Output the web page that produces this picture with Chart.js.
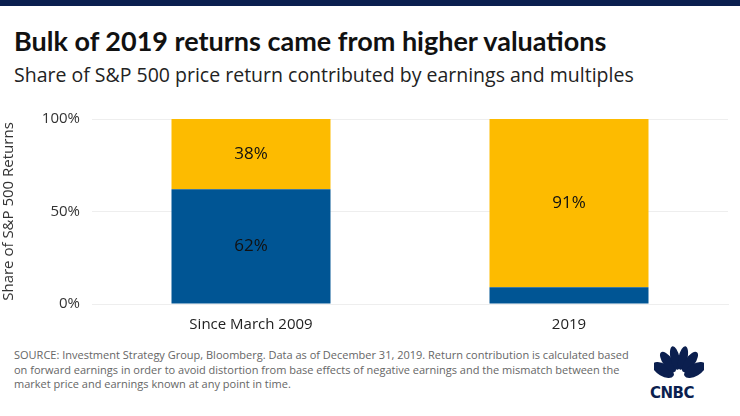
<!DOCTYPE html>
<html><head><meta charset="utf-8">
<script src="https://cdn.jsdelivr.net/npm/chart.js@4"></script>
<style>
body{margin:0;width:740px;height:416px;overflow:hidden;background:#fff;font-family:"Open Sans",Lato,sans-serif;position:relative}
#bar{position:absolute;left:0;top:0;width:740px;height:6px;background:#0b1f4f}
#t{position:absolute;left:14px;top:24px;font-size:27px;font-weight:bold;color:#111;font-family:Lato,"Open Sans",sans-serif}
#s{position:absolute;left:14px;top:61px;font-size:19.5px;color:#222}
#f{position:absolute;left:14px;top:348px;font-size:11px;line-height:14.5px;color:#666;width:620px}
#logo{position:absolute;left:650px;top:384px;font:900 15px "DejaVu Sans",sans-serif;color:#0b1f4f;letter-spacing:-0.5px}
canvas{position:absolute;left:0;top:0}
</style></head><body>
<div id="bar"></div>
<div id="t">Bulk of 2019 returns came from higher valuations</div>
<div id="s">Share of S&amp;P 500 price return contributed by earnings and multiples</div>
<div id="f">SOURCE: Investment Strategy Group, Bloomberg. Data as of December 31, 2019. Return contribution is calculated based on forward earnings in order to avoid distortion from base effects of negative earnings and the mismatch between the market price and earnings known at any point in time.</div>
<svg style="position:absolute;left:654px;top:346px" width="50" height="38" viewBox="0 0 50 38">
<g fill="#0b1f4f"><ellipse cx="9" cy="24" rx="6" ry="12" transform="rotate(-60 9 24)"/><ellipse cx="14" cy="16" rx="5" ry="12" transform="rotate(-35 14 16)"/><ellipse cx="21" cy="12" rx="4.5" ry="12" transform="rotate(-12 21 12)"/><ellipse cx="29" cy="12" rx="4.5" ry="12" transform="rotate(12 29 12)"/><ellipse cx="36" cy="16" rx="5" ry="12" transform="rotate(35 36 16)"/><ellipse cx="41" cy="24" rx="6" ry="12" transform="rotate(60 41 24)"/></g></svg>
<div id="logo">CNBC</div>
<canvas id="c" width="740" height="416"></canvas>
<script>
const categories=["Since March 2009","2019"];
const earnings=[62,9];
const multiples=[38,91];
const tickLabels={0:"0%",50:"50%",100:"100%"};
const labelPlugin={id:"lbl",afterDatasetsDraw(ch){const c=ch.ctx;c.save();c.font="17px 'Open Sans'";c.fillStyle="#111";c.textAlign="center";c.textBaseline="middle";
ch.data.datasets.forEach((ds,i)=>{ch.getDatasetMeta(i).data.forEach((b,j)=>{const v=ds.data[j];if(v<15)return;c.fillText(v+"%",b.x,(b.y+b.base)/2);});});c.restore();}};
new Chart(document.getElementById("c"),{type:"bar",
data:{labels:categories,datasets:[
{label:"Earnings",data:earnings,backgroundColor:"#005594",barPercentage:0.5,categoryPercentage:1},
{label:"Multiples",data:multiples,backgroundColor:"#fdbb00",barPercentage:0.5,categoryPercentage:1}]},
options:{responsive:false,animation:false,layout:{padding:{top:119,right:12,left:0,bottom:0}},
plugins:{legend:{display:false},tooltip:{enabled:false}},
scales:{x:{stacked:true,grid:{display:false},border:{color:"#eee"},ticks:{color:"#222",font:{size:15,family:"Open Sans"},padding:4},afterFit(s){s.height=112;}},
y:{stacked:true,min:0,max:100,afterBuildTicks(s){s.ticks=[0,50,100].map(v=>({value:v}));},
ticks:{callback:v=>tickLabels[v],color:"#333",font:{size:15,family:"Open Sans"},padding:12},
grid:{color:"#eee",drawTicks:false},border:{display:false},
title:{display:true,text:"Share of S&P 500 Returns",color:"#333",font:{size:15,family:"Open Sans"},padding:0},
afterFit(s){s.width=92;}}}},plugins:[labelPlugin]});
</script></body></html>
